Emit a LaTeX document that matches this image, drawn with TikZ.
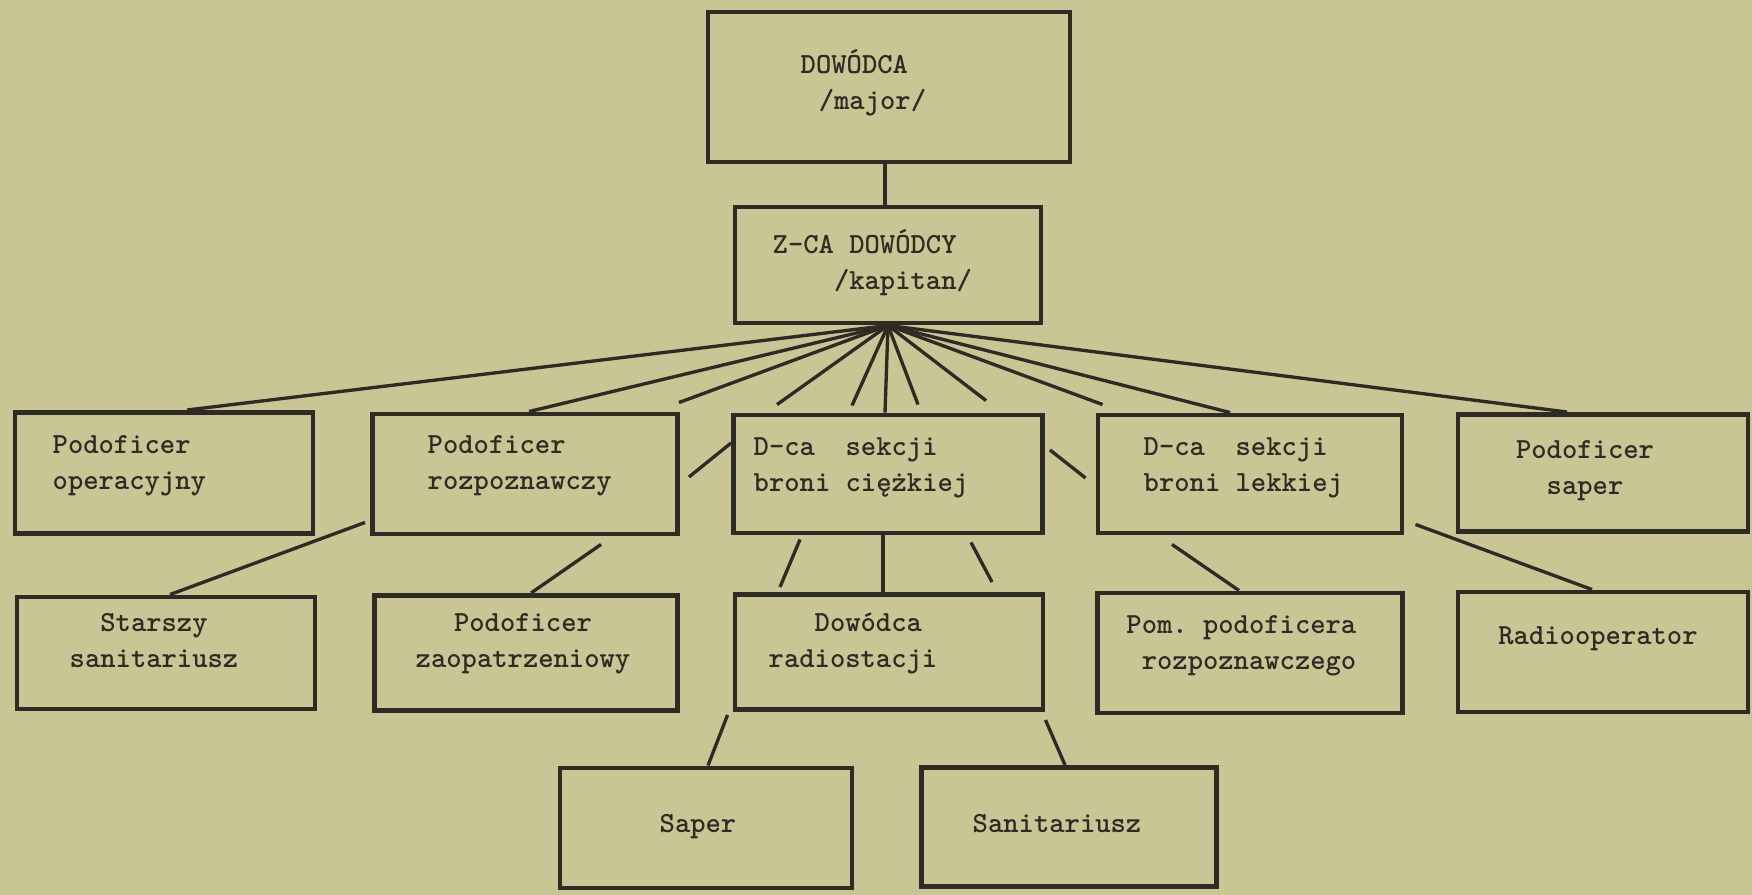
\documentclass[tikz,border=0pt]{standalone}
\usepackage{fontspec}
\usepackage{tikz}
\usetikzlibrary{calc}

\newfontfamily\typebold{lmmonolt10-bold.otf}
\definecolor{paper}{RGB}{201,197,149}
\definecolor{ink}{RGB}{46,42,36}
\frenchspacing

\begin{document}
\begin{tikzpicture}[x=0.01cm,y=-0.01cm,
		box/.style 2 args={draw=ink, line width=1.4pt, inner sep=0pt, minimum width=#1*0.01cm, minimum height=#2*0.01cm},
		txt/.style={inner sep=0pt, text=ink, font=\typebold\fontsize{8.3}{10.5}\selectfont},
		link/.style={draw=ink, line width=0.95pt}]
	\fill[paper] (0,0) rectangle (1752,895);
	\node[box={362}{150}] (dowodca) at (889,87) {};
	\node[box={306}{116}] (zastepca) at (888,265) {};
	\node[box={298}{121}] (operacyjny) at (164,473) {};
	\node[box={305}{120}] (rozpoznawczy) at (525,474) {};
	\node[box={309}{118}] (ciezka) at (888,474) {};
	\node[box={304}{118}] (lekka) at (1250,474) {};
	\node[box={290}{117}] (saperpod) at (1603,473) {};
	\node[box={298}{112}] (starszy) at (166,653) {};
	\node[box={303}{115}] (zaopatrz) at (526,653) {};
	\node[box={308}{115}] (radiostacja) at (889,652) {};
	\node[box={305}{120}] (pomocnik) at (1250,653) {};
	\node[box={290}{120}] (radioop) at (1603,652) {};
	\node[box={292}{120}] (saper) at (706,828) {};
	\node[box={295}{119}] (sanit) at (1069,827) {};

	\draw[link] ($(dowodca.south)+(-4,0)$) -- ($(zastepca.north)+(-3,0)$);
	\draw[link] (zastepca.south) -- ($(operacyjny.north)+(23,0)$);
	\draw[link] (zastepca.south) -- ($(rozpoznawczy.north)+(4,0)$);
	\draw[link] (zastepca.south) -- ($(rozpoznawczy.north east)+(-1,-9)$);
	\draw[link] (zastepca.south) -- ($(ciezka.north west)+(46,-8)$);
	\draw[link] (zastepca.south) -- ($(ciezka.north)+(-36,-7)$);
	\draw[link] (zastepca.south) -- ($(ciezka.north)+(-3,0)$);
	\draw[link] (zastepca.south) -- ($(ciezka.north)+(30,-8)$);
	\draw[link] (zastepca.south) -- ($(ciezka.north)+(98,-12)$);
	\draw[link] (zastepca.south) -- ($(lekka.north west)+(7,-8)$);
	\draw[link] (zastepca.south) -- ($(lekka.north)+(-20,0)$);
	\draw[link] (zastepca.south) -- ($(saperpod.north)+(-36,0)$);
	\draw[link] ($(rozpoznawczy.east)+(9,3)$) -- ($(ciezka.west)+(0,-31)$);
	\draw[link] ($(ciezka.east)+(5,-24)$) -- ($(lekka.west)+(-10,4)$);
	\draw[link] ($(rozpoznawczy.south west)+(-5,-14)$) -- ($(starszy.north)+(4,0)$);
	\draw[link] ($(rozpoznawczy.south)+(76,8)$) -- ($(zaopatrz.north)+(5,0)$);
	\draw[link] ($(ciezka.south)+(-88,4)$) -- ($(radiostacja.north)+(-109,-5)$);
	\draw[link] ($(ciezka.south)+(-5,0)$) -- ($(radiostacja.north)+(-6,0)$);
	\draw[link] ($(ciezka.south)+(83,7)$) -- ($(radiostacja.north)+(103,-10)$);
	\draw[link] ($(lekka.south)+(-78,9)$) -- ($(pomocnik.north)+(-11,0)$);
	\draw[link] ($(lekka.south east)+(11,-11)$) -- ($(radioop.north)+(-11,0)$);
	\draw[link] ($(radiostacja.south west)+(-5,3)$) -- ($(saper.north)+(2,0)$);
	\draw[link] ($(radiostacja.south east)+(0,8)$) -- ($(sanit.north)+(-4,0)$);

	\node[txt, align=left, anchor=base west] (dowodca-t) at (800,110) {DOWÓDCA\\\hspace*{0.62em}/major/};
	\node[txt, align=left, anchor=base west] (zastepca-t) at (772,290) {Z-CA DOWÓDCY\\\hspace*{2.1em}/kapitan/};
	\node[txt, align=left, anchor=base west] (operacyjny-t) at (52,490) {Podoficer\\operacyjny};
	\node[txt, align=left, anchor=base west] (rozpoznawczy-t) at (427,490) {Podoficer\\rozpoznawczy};
	\node[txt, align=left, anchor=base west] (ciezka-t) at (753,492) {D-ca\ \ sekcji\\broni ciężkiej};
	\node[txt, align=left, anchor=base west] (lekka-t) at (1143,492) {D-ca\ \ sekcji\\broni lekkiej};
	\node[txt, align=center, anchor=base] (saperpod-t) at (1585,495) {Podoficer\\saper};
	\node[txt, align=center, anchor=base] (starszy-t) at (154,668) {Starszy\\sanitariusz};
	\node[txt, align=center, anchor=base] (zaopatrz-t) at (523,668) {Podoficer\\zaopatrzeniowy};
	\node[txt, align=left, anchor=base west] (radiostacja-t) at (768,668) {\hspace*{1.575em}Dowódca\\radiostacji};
	\node[txt, align=right, anchor=base east] (pomocnik-t) at (1357,670) {Pom. podoficera\\rozpoznawczego};
	\node[txt, anchor=base] (radioop-t) at (1598,645) {Radiooperator};
	\node[txt, anchor=base] (saper-t) at (698,833) {Saper};
	\node[txt, anchor=base] (sanit-t) at (1057,833) {Sanitariusz};
\end{tikzpicture}
\end{document}
